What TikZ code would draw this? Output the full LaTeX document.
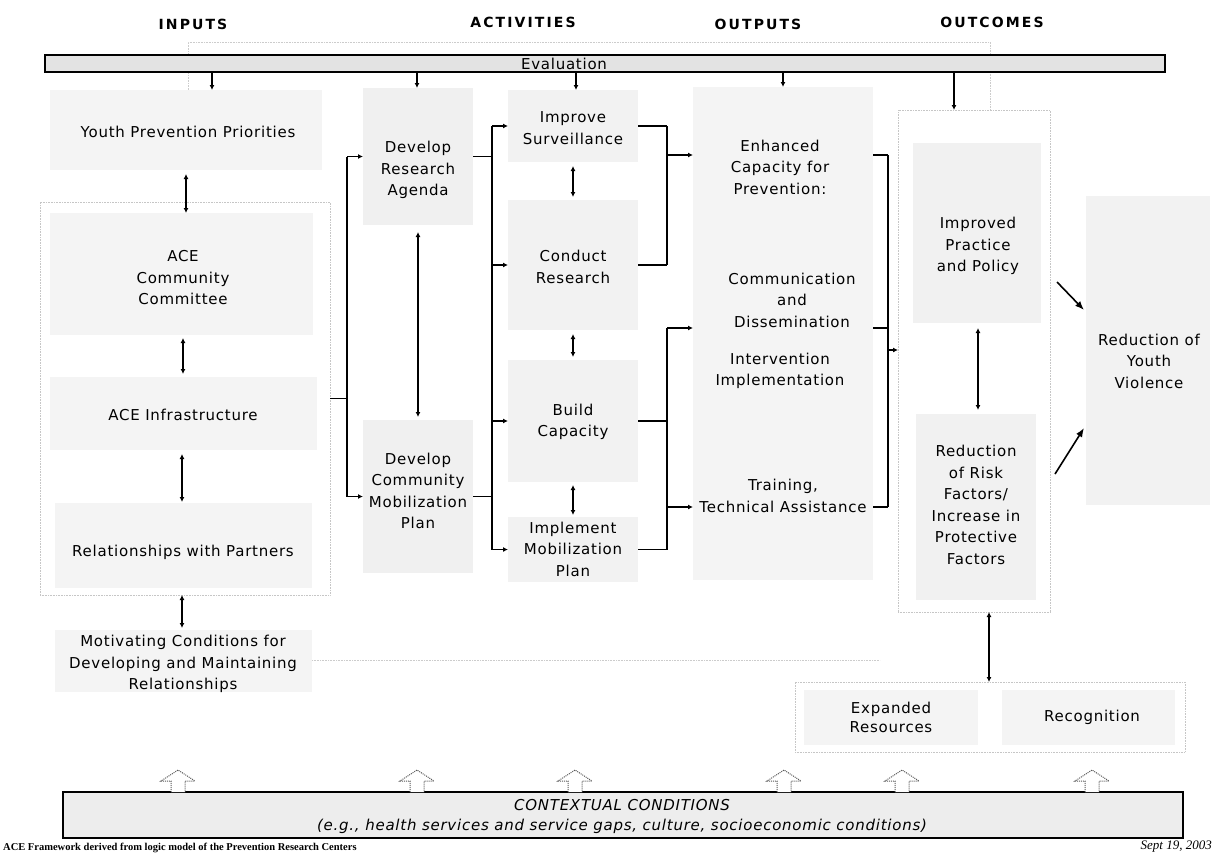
\documentclass[tikz,border=0pt]{standalone}
\usepackage{fontspec}
\setmainfont[LetterSpace=5]{DejaVu Sans}
\newfontfamily\hdrfont[LetterSpace=15]{DejaVu Sans}
\newfontfamily\seriffont{Liberation Serif}
\usetikzlibrary{arrows.meta}
\begin{document}
\begin{tikzpicture}[x=1pt,y=-1pt,
  sz/.style 2 args={minimum width=#1pt,minimum height=#2pt},
  box/.style={fill=gray!9,inner sep=0pt,outer sep=0pt},
  grp/.style={fill=white,draw=gray!45,densely dotted,line width=0.6pt,inner sep=0pt,outer sep=0pt},
  bar/.style={fill=gray!22,draw=black,line width=1.2pt,inner sep=0pt,outer sep=0pt},
  txt/.style={align=center,inner sep=0pt,font=\fontsize{15}{21.5}\selectfont},
  hdr/.style={inner sep=0pt,font=\hdrfont\bfseries\fontsize{14}{16}\selectfont},
  line/.style={line width=1.3pt},
  conn/.style={line width=1.3pt,-{Latex[length=5pt,width=5pt]}},
  dconn/.style={line width=1.3pt,{Latex[length=5pt,width=5pt]}-{Latex[length=5pt,width=5pt]}},
  bconn/.style={line width=1.6pt,-{Latex[length=9pt,width=7pt]}},
  faintl/.style={draw=gray!40,densely dotted,line width=0.6pt},
  hollow/.style={draw=black!65,densely dotted,line width=1pt,fill=white}
]
\useasboundingbox (0,0) rectangle (1215,855);
\fill[white] (0,0) rectangle (1215,855);

% headers
\node[hdr] (hin) at (193,24) {INPUTS};
\node[hdr] (hact) at (523,22) {ACTIVITIES};
\node[hdr] (hout) at (758,24) {OUTPUTS};
\node[hdr] (hoc) at (992,22) {OUTCOMES};

% faint background grouping
\coordinate (f1) at (188,90); \coordinate (f2) at (188,42);
\coordinate (f3) at (990,42); \coordinate (f4) at (990,110);
\coordinate (f5) at (312,660); \coordinate (f6) at (880,660);
\draw[faintl] (f1) -- (f2) -- (f3) -- (f4);
\draw[faintl] (f5) -- (f6);

% evaluation bar
\node[bar,sz={1120}{17}] (eval) at (605,63.5) {};
\node[txt] (evalt) at (564,63.5) {Evaluation};

% inputs
\node[grp,sz={290}{393}] (inpg) at (185,398.5) {};
\node[box,sz={272}{80}] (ypp) at (186,130) {};
\node[txt] (yppt) at (188,132) {Youth Prevention Priorities};
\node[box,sz={263}{122}] (acecc) at (181.5,274) {};
\node[txt] (acecct) at (183,278) {ACE\\Community\\Committee};
\node[box,sz={267}{73}] (infra) at (183.5,413.5) {};
\node[txt] (infrat) at (183,415) {ACE Infrastructure};
\node[box,sz={257}{85}] (rel) at (183.5,545.5) {};
\node[txt] (relt) at (183,552) {Relationships with Partners};
\node[box,sz={257}{62}] (motiv) at (183.5,661) {};
\node[txt] (motivt) at (183,664) {Motivating Conditions for\\Developing and Maintaining\\Relationships};

% develop
\node[box,fill=gray!12,sz={110}{137}] (dra) at (418,156.5) {};
\node[txt] (drat) at (418,170) {Develop\\Research\\Agenda};
\node[box,fill=gray!12,sz={110}{153}] (dcmp) at (418,496.5) {};
\node[txt] (dcmpt) at (418,491) {Develop\\Community\\Mobilization\\Plan};

% activities
\node[box,fill=gray!10,sz={130}{72}] (imp) at (573,126) {};
\node[txt] (impt) at (573,128) {Improve\\Surveillance};
\node[box,fill=gray!10,sz={130}{130}] (cond) at (573,265) {};
\node[txt] (condt) at (573,267) {Conduct\\Research};
\node[box,fill=gray!10,sz={130}{122}] (build) at (573,421) {};
\node[txt] (buildt) at (573,422) {Build\\Capacity};
\node[box,fill=gray!10,sz={130}{65}] (implm) at (573,549.5) {};
\node[txt] (implmt) at (573,549) {Implement\\Mobilization\\Plan};

% outputs
\node[box,sz={180}{493}] (outp) at (783,333.5) {};
\node[txt] (o1) at (780,167) {Enhanced\\Capacity for\\Prevention:};
\node[txt] (o2) at (792,300) {Communication\\and\\Dissemination};
\node[txt] (o3) at (780,371) {Intervention\\Implementation};
\node[txt] (o4) at (783,496) {Training,\\Technical Assistance};

% outcomes
\node[grp,sz={152}{502}] (outg) at (974,361) {};
\node[box,fill=gray!11,sz={128}{180}] (ipp) at (977,233) {};
\node[txt] (ippt) at (978,246) {Improved\\Practice\\and Policy};
\node[box,fill=gray!11,sz={120}{186}] (rrf) at (976,507) {};
\node[txt] (rrft) at (976,505) {Reduction\\of Risk\\Factors/\\Increase in\\Protective\\Factors};
\node[box,fill=gray!10,sz={124}{309}] (ryv) at (1148,350.5) {};
\node[txt] (ryvt) at (1149,361) {Reduction of\\Youth\\Violence};

% expanded resources / recognition
\node[grp,sz={390}{70}] (expg) at (990,717) {};
\node[box,sz={174}{55}] (exp) at (891,717.5) {};
\node[txt,font=\fontsize{15}{19}\selectfont] (expt) at (891,717) {Expanded\\Resources};
\node[box,sz={173}{55}] (rec) at (1088.5,717.5) {};
\node[txt] (rect) at (1092,717) {Recognition};

% contextual conditions
\node[bar,fill=gray!14,sz={1120}{46}] (ctx) at (623,815) {};
\node[txt,font=\fontsize{15}{20}\selectfont\itshape] (ctxt) at (622,816) {CONTEXTUAL CONDITIONS\\(e.g., health services and service gaps, culture, socioeconomic conditions)};
\foreach \x in {178,417,575,784,902,1092}
  \draw[hollow] (\x-7,792) -- (\x-7,781) -- (\x-17,781) -- (\x,770) -- (\x+17,781) -- (\x+7,781) -- (\x+7,792);

% footer
\node[anchor=west,inner sep=0pt,font=\seriffont\bfseries\fontsize{10.5}{12}\selectfont] (foot) at (3,848) {ACE Framework derived from logic model of the Prevention Research Centers};
\node[anchor=east,inner sep=0pt,font=\seriffont\itshape\fontsize{13}{15}\selectfont] (date) at (1212,847) {Sept 19, 2003};

% evaluation arrows
\coordinate (xe1) at (212,0); \coordinate (xe2) at (417,0); \coordinate (xe3) at (576,0);
\coordinate (xe4) at (783,0); \coordinate (xe5) at (954,0);
\draw[conn] (eval.south -| xe1) -- (ypp.north -| xe1);
\draw[conn] (eval.south -| xe2) -- (dra.north -| xe2);
\draw[conn] (eval.south -| xe3) -- (imp.north -| xe3);
\draw[conn] (eval.south -| xe4) -- (outp.north -| xe4);
\draw[conn] (eval.south -| xe5) -- (outg.north -| xe5);

% inputs chain
\coordinate (xi1) at (186,0); \coordinate (xi2) at (183,0); \coordinate (xi3) at (182,0);
\draw[dconn,shorten <=4pt] (ypp.south -| xi1) -- (acecc.north -| xi1);
\draw[dconn,shorten <=3pt,shorten >=3pt] (acecc.south -| xi2) -- (infra.north -| xi2);
\draw[dconn,shorten <=4pt,shorten >=1pt] (infra.south -| xi3) -- (rel.north -| xi3);
\draw[dconn,shorten <=7pt,shorten >=2pt] (rel.south -| xi3) -- (motiv.north -| xi3);

% inputs -> develop
\coordinate (bxL) at (347,0);
\draw[line] (inpg.east) -- (inpg.east -| bxL);
\draw[line] (dra.west -| bxL) -- (dcmp.west -| bxL);
\draw[conn] (dra.west -| bxL) -- (dra.west);
\draw[conn] (dcmp.west -| bxL) -- (dcmp.west);
\draw[dconn,shorten <=7pt,shorten >=3pt] (dra.south) -- (dcmp.north);

% develop -> activities
\coordinate (bxM) at (492,0);
\draw[line] (dra.east) -- (dra.east -| bxM);
\draw[line] (dcmp.east) -- (dcmp.east -| bxM);
\draw[line] (imp.west -| bxM) -- (implm.west -| bxM);
\draw[conn] (imp.west -| bxM) -- (imp.west);
\draw[conn] (cond.west -| bxM) -- (cond.west);
\draw[conn] (build.west -| bxM) -- (build.west);
\draw[conn] (implm.west -| bxM) -- (implm.west);
\draw[dconn,shorten <=4pt,shorten >=3pt] (imp.south) -- (cond.north);
\draw[dconn,shorten <=4pt,shorten >=3pt] (cond.south) -- (build.north);
\draw[dconn,shorten <=3pt,shorten >=2pt] (build.south) -- (implm.north);

% activities -> outputs
\coordinate (bxR) at (667,0);
\coordinate (yA) at (0,155); \coordinate (yB) at (0,328); \coordinate (yC) at (0,507); \coordinate (yD) at (0,350);
\draw[line] (imp.east) -- (imp.east -| bxR);
\draw[line] (cond.east) -- (cond.east -| bxR);
\draw[line] (imp.east -| bxR) -- (cond.east -| bxR);
\draw[conn] (bxR |- yA) -- (outp.west |- yA);
\draw[line] (build.east) -- (build.east -| bxR);
\draw[line] (implm.east) -- (implm.east -| bxR);
\draw[line] (bxR |- yB) -- (implm.east -| bxR);
\draw[conn] (bxR |- yB) -- (outp.west |- yB);
\draw[conn] (bxR |- yC) -- (outp.west |- yC);

% outputs -> outcomes
\coordinate (bxO) at (888,0);
\draw[line] (outp.east |- yA) -- (bxO |- yA);
\draw[line] (outp.east |- yB) -- (bxO |- yB);
\draw[line] (outp.east |- yC) -- (bxO |- yC);
\draw[line] (bxO |- yA) -- (bxO |- yC);
\draw[conn] (bxO |- yD) -- (outg.west |- yD);

% outcomes
\coordinate (xo) at (978,0);
\draw[dconn,shorten <=5pt,shorten >=4pt] (ipp.south -| xo) -- (rrf.north -| xo);
\coordinate (d1s) at (1057,282); \coordinate (d1e) at (1084,310);
\coordinate (d2s) at (1055,474); \coordinate (d2e) at (1084,428);
\draw[bconn] (d1s) -- (d1e);
\draw[bconn] (d2s) -- (d2e);
\coordinate (xq) at (989,0);
\draw[dconn] (outg.south -| xq) -- (expg.north -| xq);
\end{tikzpicture}
\end{document}
